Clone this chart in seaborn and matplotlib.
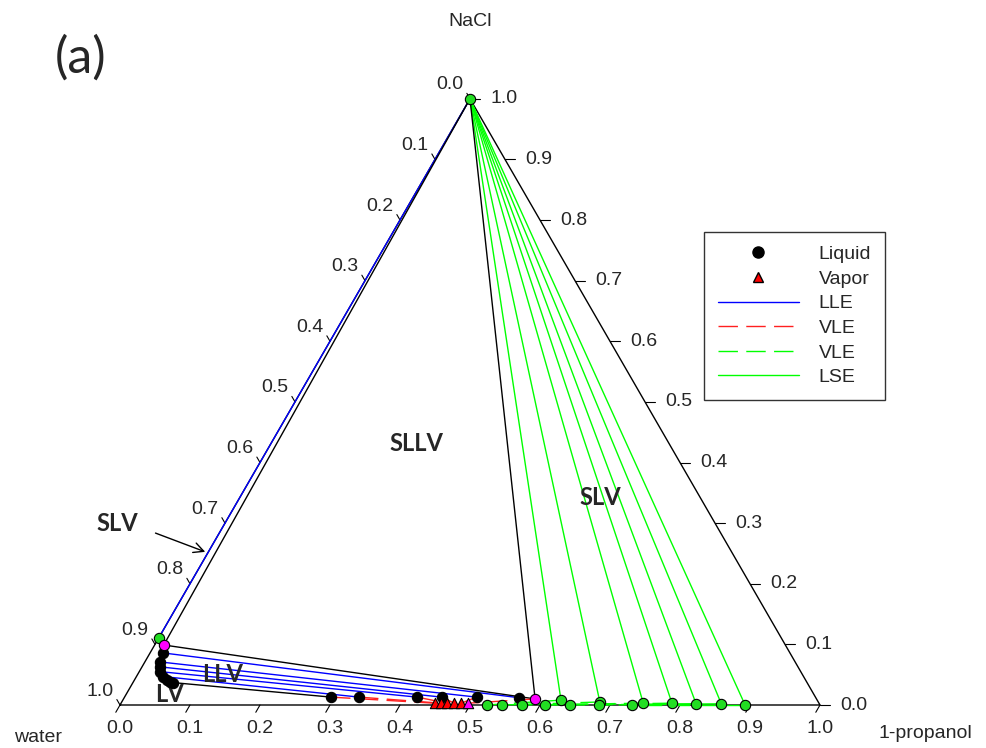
import numpy as np
import matplotlib
matplotlib.use("Agg")
import matplotlib.pyplot as plt
import seaborn as sns
from matplotlib.lines import Line2D

# compositions are (x 1-propanol, x NaCl); water = 1 - both
tick_vals = [0.0, 0.1, 0.2, 0.3, 0.4, 0.5, 0.6, 0.7, 0.8, 0.9, 1.0]
tick_labels = ['0.0', '0.1', '0.2', '0.3', '0.4', '0.5', '0.6', '0.7', '0.8', '0.9', '1.0']

nacl_apex = (0.0, 1.0)
lse_water_edge = (0.0, 0.11)        # green point on the water-NaCl edge
sllv_left = (0.013, 0.099)          # three-phase liquid 1
sllv_right = (0.588, 0.010)         # three-phase liquid 2
sllv_vapor = (0.496, 0.003)         # three-phase vapor

# water-rich liquid phases (LLV / LV boundary)
llv_left_prop = [0.018, 0.022, 0.025, 0.030, 0.038, 0.046, 0.052, 0.057]
llv_left_nacl = [0.086, 0.071, 0.063, 0.055, 0.047, 0.042, 0.038, 0.037]

# propanol-rich liquid phases
lle_right_prop = [0.295, 0.335, 0.418, 0.453, 0.503, 0.564]
lle_right_nacl = [0.013, 0.013, 0.013, 0.013, 0.013, 0.012]

# LLE tie lines: index into left list -> index into right list
lle_pairs = [(0, 5), (1, 4), (2, 3), (3, 2), (4, 1)]

# vapor compositions
vap_prop = [0.448, 0.457, 0.466, 0.476, 0.486]
vap_nacl = [0.003, 0.003, 0.003, 0.003, 0.003]

# LSE liquids (tie lines to NaCl) and their vapors
lse_liq_prop = [0.626, 0.683, 0.746, 0.787, 0.822, 0.858, 0.893]
lse_liq_nacl = [0.008, 0.005, 0.003, 0.003, 0.002, 0.002, 0.0]
lse_vap_prop = [0.524, 0.546, 0.574, 0.607, 0.643, 0.684, 0.731]
lse_vap_nacl = [0.0, 0.0, 0.0, 0.0, 0.0, 0.0, 0.0]

S3 = np.sqrt(3) / 2


def tern(prop, nacl):
    prop = np.asarray(prop, dtype=float)
    nacl = np.asarray(nacl, dtype=float)
    return prop + 0.5 * nacl, S3 * nacl


sns.set_style("white")
plt.rcParams['font.family'] = ['Liberation Sans', 'DejaVu Sans']

fig = plt.figure(figsize=(9.86, 7.48), dpi=100)
ax = fig.add_axes([0, 0, 1, 1])
ax.set_xlim(-120 / 700, 866 / 700)
ax.set_ylim(-43 / 700, 705 / 700)
ax.axis('off')

# triangle frame
fx, fy = tern([0, 1, 0, 0], [0, 0, 1, 0])
ax.plot(fx, fy, color='black', lw=1.0, zorder=1)

# ticks and labels
for t, lab in zip(tick_vals, tick_labels):
    # bottom: 1-propanol
    x0, y0 = tern(t, 0)
    ax.plot([x0, x0 - 0.5 * 0.012], [y0, y0 - S3 * 0.012], color='black', lw=0.8)
    ax.text(x0, -0.033, lab, ha='center', va='center', fontsize=14)
    # left: water
    x0, y0 = tern(0, 1 - t)
    ax.plot([x0, x0 - 0.5 * 0.009], [y0, y0 + S3 * 0.009], color='black', lw=0.8)
    ax.text(x0 - 0.029, y0 + 0.02, lab, ha='center', va='center', fontsize=14)
    # right: NaCl
    x0, y0 = tern(1 - t, t)
    ax.plot([x0, x0 + 0.014], [y0, y0], color='black', lw=0.8)
    ax.text(x0 + 0.048, y0, lab, ha='center', va='center', fontsize=14)

# LSE tie lines from NaCl apex
for p, n in zip(lse_liq_prop, lse_liq_nacl):
    lx, ly = tern([nacl_apex[0], p], [nacl_apex[1], n])
    ax.plot(lx, ly, color='#00ff00', lw=1.0, zorder=2)
lx, ly = tern([nacl_apex[0], lse_water_edge[0]], [nacl_apex[1], lse_water_edge[1]])
ax.plot(lx, ly, color='#0000ff', lw=1.0, zorder=2)

# VLE (green dashed) liquid -> vapor
for p, n, pv, nv in zip(lse_liq_prop, lse_liq_nacl, lse_vap_prop, lse_vap_nacl):
    lx, ly = tern([p, pv], [n, nv])
    ax.plot(lx, ly, color='#00ff00', lw=1.0, dashes=(14, 6), zorder=2)

# LLE tie lines (blue)
for i, j in lle_pairs:
    lx, ly = tern([llv_left_prop[i], lle_right_prop[j]], [llv_left_nacl[i], lle_right_nacl[j]])
    ax.plot(lx, ly, color='#0000ff', lw=1.0, zorder=2)
lx, ly = tern([llv_left_prop[-1], lle_right_prop[0]], [llv_left_nacl[-1], lle_right_nacl[0]])
ax.plot(lx, ly, color='black', lw=1.0, zorder=2)

# VLE (red dashed) liquid -> vapor
for k in range(len(vap_prop)):
    lx, ly = tern([lle_right_prop[k], vap_prop[k]], [lle_right_nacl[k], vap_nacl[k]])
    ax.plot(lx, ly, color='#ff2020', lw=1.0, dashes=(14, 6), zorder=2)

# three-phase triangle (black)
tri_p = [nacl_apex[0], sllv_left[0], sllv_right[0], nacl_apex[0]]
tri_n = [nacl_apex[1], sllv_left[1], sllv_right[1], nacl_apex[1]]
lx, ly = tern(tri_p, tri_n)
ax.plot(lx, ly, color='black', lw=1.0, zorder=2)
lx, ly = tern([sllv_right[0], sllv_vapor[0]], [sllv_right[1], sllv_vapor[1]])
ax.plot(lx, ly, color='#ff2020', lw=1.0, dashes=(14, 6), zorder=2)

# markers
mk = dict(s=55, edgecolor='black', linewidth=0.8, ax=ax)
liq_x, liq_y = tern(llv_left_prop + lle_right_prop, llv_left_nacl + lle_right_nacl)
sns.scatterplot(x=liq_x, y=liq_y, color='black', zorder=4, **mk)

vx, vy = tern(vap_prop, vap_nacl)
sns.scatterplot(x=vx, y=vy, color='#ff0000', marker='^', zorder=4, **mk)

gx, gy = tern(lse_liq_prop + lse_vap_prop + [lse_water_edge[0], nacl_apex[0]],
              lse_liq_nacl + lse_vap_nacl + [lse_water_edge[1], nacl_apex[1]])
sns.scatterplot(x=gx, y=gy, color='#22dd22', zorder=4, **mk)

mx, my = tern([sllv_left[0], sllv_right[0]], [sllv_left[1], sllv_right[1]])
sns.scatterplot(x=mx, y=my, color='#ff00ff', zorder=5, **mk)
mvx, mvy = tern(sllv_vapor[0], sllv_vapor[1])
sns.scatterplot(x=[mvx], y=[mvy], color='#ff00ff', marker='^', zorder=5, **mk)

# region labels
bold = dict(fontsize=17, fontweight='bold', ha='center', va='center', family='Lato')
ax.text(0.424, 0.374, 'SLLV', **bold)
ax.text(0.686, 0.297, 'SLV', **bold)
ax.text(-0.004, 0.259, 'SLV', **bold)
ax.text(0.146, 0.043, 'LLV', **bold)
ax.text(0.070, 0.015, 'LV', **bold)
ax.annotate('', xy=tern(0.0, 0.251), xytext=(0.047, 0.247),
            arrowprops=dict(arrowstyle='->', color='black', lw=1.0, mutation_scale=18))

# vertex names
ax.text(0.5, 0.976, 'NaCl', ha='center', va='center', fontsize=14)
ax.text(-0.117, -0.046, 'water', ha='center', va='center', fontsize=14)
ax.text(1.15, -0.040, '1-propanol', ha='center', va='center', fontsize=14)
ax.text(-0.057, 0.924, '(a)', ha='center', va='center', fontsize=36, family='Lato')

# legend
handles = [
    Line2D([], [], ls='none', marker='o', color='black', markersize=8),
    Line2D([], [], ls='none', marker='^', markerfacecolor='#ff0000', markeredgecolor='black', markersize=7),
    Line2D([], [], color='#0000ff', lw=1.0),
    Line2D([], [], color='#ff2020', lw=1.0, dashes=(14, 6)),
    Line2D([], [], color='#00ff00', lw=1.0, dashes=(14, 6)),
    Line2D([], [], color='#00ff00', lw=1.0),
]
labels = ['Liquid', 'Vapor', 'LLE', 'VLE', 'VLE', 'LSE']
leg = ax.legend(handles, labels, loc='upper left', bbox_to_anchor=(0.714, 0.690),
                frameon=True, fancybox=False, edgecolor='black', fontsize=14,
                handlelength=4.2, handletextpad=1.0, labelspacing=0.36,
                borderpad=0.7, borderaxespad=0)
leg.get_frame().set_linewidth(1.0)

fig.savefig('out.png', dpi=100)
